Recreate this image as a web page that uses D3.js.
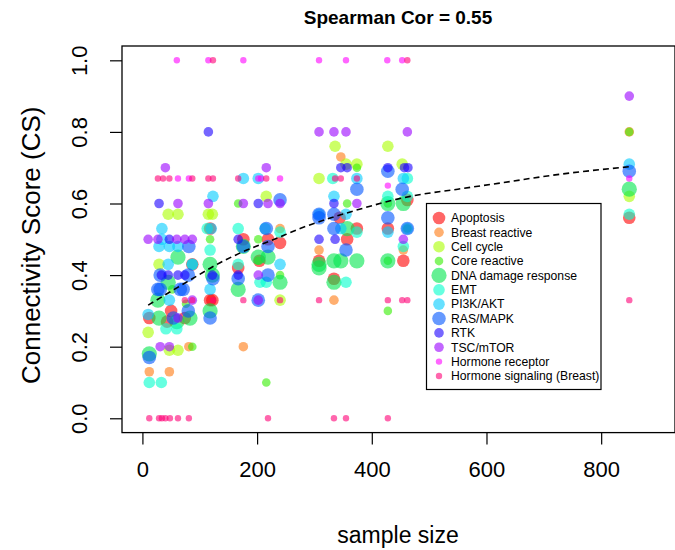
<!DOCTYPE html>
<html><head><meta charset="utf-8">
<script src="https://cdn.jsdelivr.net/npm/d3@7"></script>
<style>
html,body{margin:0;padding:0;background:#fff;}
svg{display:block;font-family:"Liberation Sans",Arial,Helvetica,sans-serif;}
</style></head>
<body><svg id="chart" width="675" height="550"></svg>
<script>
// ---- categories / legend ----
const categories = ["Apoptosis","Breast reactive","Cell cycle","Core reactive","DNA damage response","EMT","PI3K/AKT","RAS/MAPK","RTK","TSC/mTOR","Hormone receptor","Hormone signaling (Breast)"];
const catCodes = ["A","B","C","K","D","E","P","R","T","M","H","S"];
const titleText = "Spearman Cor = 0.55";
const xLabel = "sample size";
const yLabel = "Connectivity Score (CS)";
const xTicks = [0,200,400,600,800];
const yTicks = [0,0.2,0.4,0.6,0.8,1.0];

// ---- data points: sample size, connectivity score, pathway code ----
const sampleSize = [
 12,43,50,74,87,118,118,122,176,167,219,204,240,308,344,357,334,374,428,462,455,849,
 12,47,81,118,176,240,308,346,334,455,849,
 10,29,45,62,47,62,115,122,216,240,308,336,355,374,428,453,849,
 52,76,87,118,167,202,202,216,240,357,374,428,428,428,462,849,
 12,27,29,45,62,60,83,118,122,118,176,167,202,219,240,308,308,334,346,334,357,374,428,428,455,849,
 12,33,41,60,87,113,118,167,167,214,205,216,240,332,355,374,428,462,462,462,455,849,
 10,34,34,29,47,45,47,62,87,123,120,118,176,202,240,308,334,346,355,374,428,455,849,
 12,27,31,31,54,66,71,81,80,80,123,118,176,167,202,216,219,219,240,308,308,334,334,355,374,428,428,453,462,849,
 29,47,33,45,62,74,115,122,167,167,202,308,334,336,346,357,428,457,463,
 10,27,40,31,47,60,62,62,74,87,87,115,176,202,202,216,219,240,308,334,355,374,455,462,849,
 60,115,176,308,355,427,453,62,81,202,207,240,428,849,
 123,462,27,36,47,87,115,123,167,216,336,346,374,74,87,123,176,240,308,428,453,462,849,12,29,34,40,48,62,81,219,334,355,428
];
const csScore = [
 0.28,0.27,0.30,0.28,0.43,0.53,0.33,0.33,0.50,0.42,0.50,0.44,0.49,0.44,0.56,0.50,0.39,0.53,0.53,0.61,0.44,0.56,
 0.13,0.13,0.20,0.53,0.20,0.53,0.47,0.73,0.33,0.47,0.80,
 0.24,0.43,0.57,0.57,0.19,0.19,0.57,0.57,0.62,0.33,0.67,0.76,0.71,0.71,0.76,0.71,0.62,
 0.36,0.32,0.20,0.50,0.60,0.50,0.44,0.10,0.40,0.60,0.70,0.60,0.44,0.30,0.53,0.80,
 0.18,0.33,0.28,0.38,0.45,0.27,0.28,0.43,0.40,0.30,0.48,0.36,0.45,0.45,0.38,0.43,0.42,0.44,0.44,0.38,0.53,0.44,0.60,0.44,0.60,0.64,
 0.10,0.10,0.25,0.25,0.43,0.53,0.47,0.53,0.43,0.53,0.38,0.38,0.52,0.67,0.38,0.52,0.62,0.67,0.62,0.53,0.48,0.57,
 0.29,0.50,0.53,0.48,0.48,0.43,0.33,0.48,0.43,0.62,0.53,0.36,0.67,0.67,0.43,0.57,0.62,0.53,0.57,0.67,0.52,0.67,0.71,
 0.17,0.36,0.40,0.36,0.28,0.36,0.36,0.48,0.40,0.30,0.39,0.28,0.48,0.39,0.33,0.53,0.48,0.40,0.61,0.57,0.56,0.57,0.53,0.47,0.64,0.69,0.56,0.64,0.53,0.69,
 0.60,0.50,0.40,0.40,0.40,0.40,0.80,0.40,0.50,0.40,0.60,0.50,0.60,0.50,0.70,0.70,0.70,0.70,0.70,
 0.50,0.50,0.70,0.20,0.20,0.50,0.60,0.28,0.50,0.50,0.33,0.60,0.60,0.40,0.33,0.70,0.60,0.60,0.80,0.80,0.80,0.60,0.50,0.80,0.90,
 1,1,1,1,1,1,1,0.67,0.67,0.67,0.67,0.67,0.65,0.67,
 1,1,0.67,0.67,0.67,0.67,0.67,0.67,0.67,0.67,0.67,0.67,0.67,0.33,0.33,0.33,0.33,0.33,0.33,0.33,0.33,0.33,0.33,0,0,0,0,0,0,0,0,0,0,0
];
const pathway = [].concat(
 Array(22).fill("A"), Array(11).fill("B"), Array(17).fill("C"), Array(16).fill("K"),
 Array(26).fill("D"), Array(22).fill("E"), Array(23).fill("P"), Array(30).fill("R"),
 Array(19).fill("T"), Array(25).fill("M"), Array(14).fill("H"), Array(34).fill("S")
);

// ---- trend (loess) curve ----
const trendX = [10,45,83,130,182,230,275,370,467,550,623,720,850];
const trendY = [0.316,0.35,0.386,0.43,0.47,0.50,0.53,0.58,0.62,0.64,0.657,0.68,0.703];

// ---- styles ----
const catColor = {A:"#ff0000",B:"#ff7a10",C:"#aaff00",K:"#33ee00",D:"#00e64d",E:"#00ffcc",
                  P:"#00ccff",R:"#0055ff",T:"#1a00ff",M:"#9900ff",H:"#ff00ff",S:"#ff0077"};
const catR = {A:6.3,B:4.8,C:5.8,K:4.3,D:7.6,E:5.8,P:5.8,R:6.8,T:4.8,M:4.8,H:3.2,S:3.2};
const alpha = 0.6;

const svg = d3.select("#chart");
const L=122, R=674, T=46, B=432.6;
const x = d3.scaleLinear().domain([-35.6, 927]).range([L, R]);
const y = d3.scaleLinear().domain([-0.04, 1.04]).range([B, T]);

// points
const pts = sampleSize.map((s,i)=>({s, v:csScore[i], c:pathway[i]}));
svg.append("g").selectAll("circle").data(pts).join("circle")
  .attr("cx", d=>x(d.s)).attr("cy", d=>y(d.v)).attr("r", d=>catR[d.c])
  .attr("fill", d=>catColor[d.c]).attr("fill-opacity", alpha);

// trend line
svg.append("path").datum(trendX.map((v,i)=>[v,trendY[i]]))
  .attr("d", d3.line().x(d=>x(d[0])).y(d=>y(d[1])).curve(d3.curveMonotoneX))
  .attr("fill","none").attr("stroke","#000").attr("stroke-width",1.6)
  .attr("stroke-dasharray","6,4");

// axes
const xAxis = svg.append("g").attr("transform",`translate(0,${B})`)
  .call(d3.axisBottom(x).tickValues(xTicks).tickSize(12).tickPadding(17).tickFormat(d3.format("d")));
xAxis.select(".domain").remove();
xAxis.selectAll("line").attr("stroke","#000").attr("stroke-width",1.2);
xAxis.selectAll("text").attr("font-size",22).attr("fill","#000").style("font-family","Liberation Sans, Arial, sans-serif");

const yAxis = svg.append("g").attr("transform",`translate(${L},0)`)
  .call(d3.axisLeft(y).tickValues(yTicks).tickSize(12).tickFormat(d3.format(".1f")));
yAxis.select(".domain").remove();
yAxis.selectAll("line").attr("stroke","#000").attr("stroke-width",1.2);
yAxis.selectAll("text").attr("font-size",22).attr("fill","#000")
  .attr("x",null).attr("dy",null).attr("text-anchor","middle")
  .attr("transform","translate(-35,0) rotate(-90)")
  .style("font-family","Liberation Sans, Arial, sans-serif");

// box
svg.append("rect").attr("x",L).attr("y",T).attr("width",R-L+1).attr("height",B-T)
  .attr("fill","none").attr("stroke","#000").attr("stroke-width",1.3);

// title & labels
svg.append("text").attr("x",(L+R)/2).attr("y",24).attr("text-anchor","middle")
  .attr("font-weight","bold").attr("font-size",19).text(titleText);
svg.append("text").attr("x",(L+R)/2).attr("y",543).attr("text-anchor","middle")
  .attr("font-size",23).text(xLabel);
svg.append("text").attr("transform",`translate(40,${(T+B)/2+6}) rotate(-90)`).attr("text-anchor","middle")
  .attr("font-size",26).text(yLabel);

// legend
const lg = svg.append("g");
lg.append("rect").attr("x",426.5).attr("y",203.5).attr("width",174.5).attr("height",186)
  .attr("fill","#fff").attr("stroke","#000").attr("stroke-width",1.2);
categories.forEach((name,i)=>{
  const cy = 218 + i*14.36, code = catCodes[i];
  lg.append("circle").attr("cx",439).attr("cy",cy).attr("r",catR[code])
    .attr("fill",catColor[code]).attr("fill-opacity",alpha);
  lg.append("text").attr("x",451).attr("y",cy).attr("dy","0.35em").attr("font-size",12.2).text(name);
});
</script></body></html>
